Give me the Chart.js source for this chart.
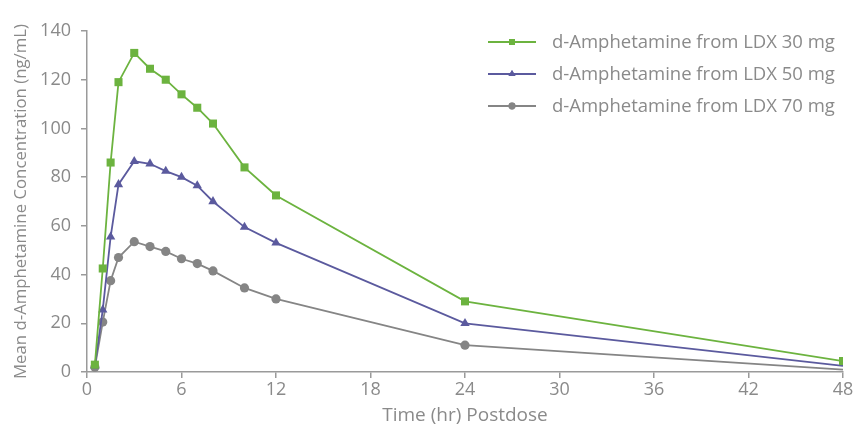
<!DOCTYPE html>
<html>
<head>
<meta charset="utf-8">
<script src="https://cdn.jsdelivr.net/npm/chart.js@4"></script>
<style>
  html, body { margin: 0; padding: 0; background: #fff; }
</style>
</head>
<body>
<canvas id="chart" width="864" height="427"></canvas>
<script>
const hours = [0.5, 1, 1.5, 2, 3, 4, 5, 6, 7, 8, 10, 12, 24, 48];
const ldx30 = [3, 42.5, 86, 119, 131, 124.5, 120, 114, 108.5, 102, 84, 72.5, 29, 4.5];
const ldx50 = [2.5, 25.5, 55.5, 77, 86.5, 85.5, 82.5, 80, 76.5, 70, 59.5, 53, 20, 2.5];
const ldx70 = [2, 20.5, 37.5, 47, 53.5, 51.5, 49.5, 46.5, 44.5, 41.5, 34.5, 30, 11, 1];
const xTicks = [0, 6, 12, 18, 24, 30, 36, 42, 48];

const GREEN = "#6cb33f";
const PURPLE = "#5b5a9e";
const GREY = "#858585";
const TEXT = "#8a8a8a";
const AXIS = "#9a9a9a";

function pts(ys) {
  return hours.map((h, i) => ({x: h, y: ys[i]}));
}

const series = [
  {label: "d-Amphetamine from LDX 30 mg", data: pts(ldx30), color: GREEN, style: "rect", r: 5.7, last: true},
  {label: "d-Amphetamine from LDX 50 mg", data: pts(ldx50), color: PURPLE, style: "triangle", r: 5.4, last: false},
  {label: "d-Amphetamine from LDX 70 mg", data: pts(ldx70), color: GREY, style: "circle", r: 4.6, last: false}
];

// legend drawn by hand: a line with the marker in its middle
const lineLegend = {
  id: "lineLegend",
  afterDraw(chart) {
    const ctx = chart.ctx;
    ctx.save();
    series.forEach((s, i) => {
      const y = 42 + i * 32;
      ctx.strokeStyle = s.color;
      ctx.lineWidth = 2;
      ctx.beginPath();
      ctx.moveTo(488, y);
      ctx.lineTo(536, y);
      ctx.stroke();
      ctx.fillStyle = s.color;
      Chart.helpers.drawPoint(ctx, {pointStyle: s.style, radius: s.r * 0.75, borderWidth: 0}, 512, y);
      ctx.fill();
      ctx.fillStyle = TEXT;
      ctx.font = "18.5px 'Open Sans'";
      ctx.textBaseline = "middle";
      ctx.fillText(s.label, 552, y + 1);
    });
    ctx.restore();
  }
};

new Chart(document.getElementById("chart"), {
  type: "line",
  data: {
    datasets: series.map(s => ({
      label: s.label,
      data: s.data,
      borderColor: s.color,
      backgroundColor: s.color,
      borderWidth: 1.8,
      pointStyle: s.style,
      pointRadius: s.data.map((p, i) => (i === s.data.length - 1 && !s.last) ? 0 : s.r),
      pointBorderWidth: 0,
      tension: 0
    }))
  },
  options: {
    responsive: false,
    animation: false,
    layout: {padding: {top: 31, right: 21, left: 0, bottom: 0}},
    plugins: {legend: {display: false}, tooltip: {enabled: false}},
    scales: {
      x: {
        type: "linear",
        min: 0,
        max: 48,
        afterBuildTicks: (axis) => { axis.ticks = xTicks.map(v => ({value: v})); },
        afterFit: (axis) => { axis.height = 55; },
        border: {color: AXIS, width: 1.5},
        grid: {drawOnChartArea: false, color: AXIS, tickLength: 6, lineWidth: 1.5},
        ticks: {color: TEXT, font: {family: "'Open Sans'", size: 18}, padding: 1, maxRotation: 0},
        title: {display: true, text: "Time (hr) Postdose", color: TEXT, font: {family: "'Open Sans'", size: 19}, padding: {top: 0, bottom: 0}}
      },
      y: {
        min: 0,
        max: 140,
        afterFit: (axis) => { axis.width = 87; },
        border: {color: AXIS, width: 1.5},
        grid: {drawOnChartArea: false, color: AXIS, tickLength: 6, lineWidth: 1.5},
        ticks: {stepSize: 20, color: TEXT, font: {family: "'Open Sans'", size: 18}, padding: 10},
        title: {display: true, text: "Mean d-Amphetamine Concentration (ng/mL)", color: TEXT, font: {family: "'Open Sans'", size: 16.8}, padding: {top: 11, bottom: 0}}
      }
    }
  },
  plugins: [lineLegend]
});
</script>
</body>
</html>
